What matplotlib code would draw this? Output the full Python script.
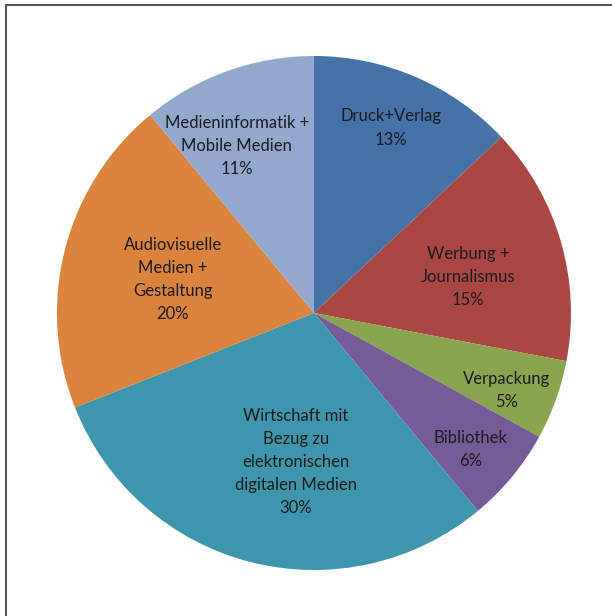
import matplotlib
matplotlib.use('Agg')
import matplotlib.pyplot as plt
from matplotlib.patches import Rectangle

# Anteile der Studienrichtungen
categories = ['Druck+Verlag', 'Werbung +\nJournalismus', 'Verpackung', 'Bibliothek',
              'Wirtschaft mit\nBezug zu\nelektronischen\ndigitalen Medien',
              'Audiovisuelle\nMedien +\nGestaltung', 'Medieninformatik +\nMobile Medien']
shares = [13, 15, 5, 6, 30, 20, 11]
colors = ['#4572A7', '#AA4643', '#89A54E', '#755B97', '#3D96AE', '#DB843D', '#92A8CD']

# Lage der Beschriftungen (in Einheiten des Radius)
label_pos = [(0.30, 0.72), (0.60, 0.14), (0.75, -0.30), (0.61, -0.53),
             (-0.07, -0.58), (-0.55, 0.13), (-0.30, 0.65)]

plt.rcParams['font.family'] = ['Lato', 'DejaVu Sans']

fig = plt.figure(figsize=(6.12, 6.16), dpi=100)
ax = fig.add_axes([0.0931, 0.0747, 0.8399, 0.8344])

wedges, _ = ax.pie(shares, colors=colors, startangle=90, counterclock=False,
                   radius=1.0, wedgeprops=dict(linewidth=0))

for name, val, (x, y) in zip(categories, shares, label_pos):
    ax.text(x, y, f'{name}\n{val}%', ha='center', va='center',
            fontsize=12, color='#1a1a1a', linespacing=1.55)

ax.set_xlim(-1, 1)
ax.set_ylim(-1, 1)
ax.set_aspect('equal')
ax.axis('off')

# Rahmen um das Diagramm
frame = Rectangle((6 / 612, -0.1), 1.2, 1 - 5 / 616 + 0.1, transform=fig.transFigure,
                  fill=False, edgecolor='#555555', linewidth=1.5, clip_on=False)
fig.patches.append(frame)

fig.savefig('out.png', dpi=100, facecolor='white')
